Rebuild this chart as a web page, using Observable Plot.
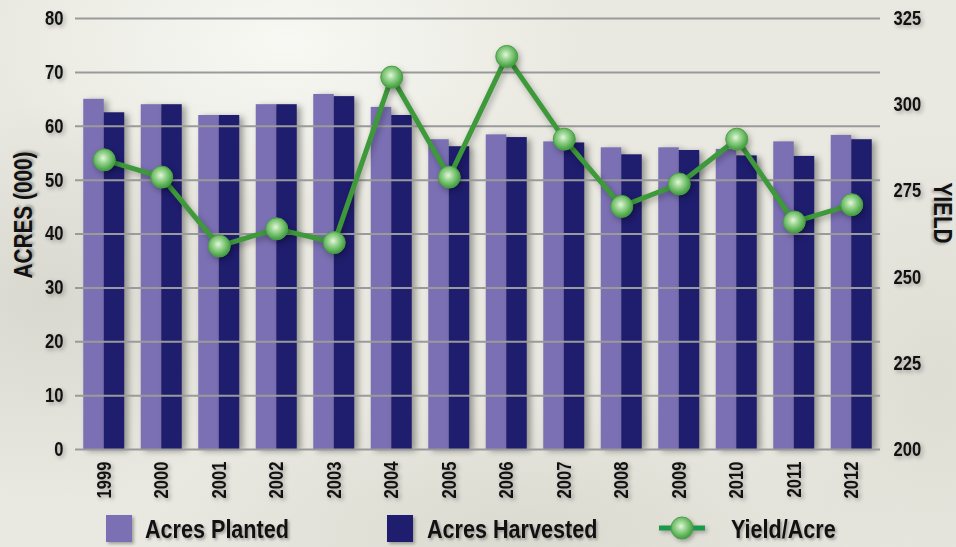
<!DOCTYPE html>
<html><head><meta charset="utf-8">
<script src="https://cdn.jsdelivr.net/npm/d3@7"></script>
<script src="https://cdn.jsdelivr.net/npm/@observablehq/plot@0.6"></script>
<style>
html,body{margin:0;padding:0;}
body{width:956px;height:547px;overflow:hidden;font-family:"Liberation Sans Narrow","Arial Narrow","Liberation Sans",Arial,sans-serif;font-weight:bold;color:#111;}
#wrap{position:relative;width:956px;height:547px;
 background:
  radial-gradient(ellipse 300px 160px at 30% 8%, rgba(250,250,246,.9), rgba(250,250,246,0)),
  radial-gradient(ellipse 260px 200px at 5% 55%, rgba(205,205,196,.6), rgba(205,205,196,0)),
  radial-gradient(ellipse 380px 160px at 55% 98%, rgba(208,208,198,.6), rgba(208,208,198,0)),
  radial-gradient(ellipse 200px 260px at 98% 70%, rgba(214,214,204,.6), rgba(214,214,204,0)),
  #e9e9e1;}
#wrap > svg, #wrap > figure{position:absolute;left:0;top:0;margin:0;}
svg g[aria-label="bar"]{filter:drop-shadow(4px 2px 3px rgba(0,0,0,.35));}
svg g[aria-label="y-axis tick label"], svg g[aria-label="x-axis tick label"]{filter:drop-shadow(2px 2px 2px rgba(0,0,0,.3));}
svg g[aria-label="line"], svg g[aria-label="dot"]{filter:drop-shadow(2px 3px 3px rgba(0,0,0,.3));}
.title{position:absolute;font-size:25px;white-space:nowrap;text-shadow:2px 2px 3px rgba(0,0,0,.3);line-height:1;}
.leg{position:absolute;font-size:26px;white-space:nowrap;text-shadow:2px 2px 3px rgba(0,0,0,.3);line-height:1;transform:scaleX(0.83);transform-origin:0 50%;}
.sw{position:absolute;width:26px;height:27px;box-shadow:2px 2px 3px rgba(0,0,0,.3);}
</style></head>
<body><div id="wrap"></div>
<script>
const years = ["1999","2000","2001","2002","2003","2004","2005","2006","2007","2008","2009","2010","2011","2012"];
const acresPlanted   = [65.0, 64.0, 62.0, 64.0, 65.9, 63.5, 57.5, 58.4, 57.1, 56.0, 56.0, 55.7, 57.1, 58.3];
const acresHarvested = [62.5, 64.0, 62.0, 64.0, 65.5, 62.0, 56.2, 57.9, 56.9, 54.7, 55.5, 54.5, 54.4, 57.5];
const yieldPerAcre   = [284, 279, 259, 264, 260, 308, 279, 314, 290, 270.5, 277, 290, 266, 271];
const acresTicks = [0, 10, 20, 30, 40, 50, 60, 70, 80];
const yieldTicks = [200, 225, 250, 275, 300, 325];
const seriesNames = ["Acres Planted", "Acres Harvested", "Yield/Acre"];

const colPlanted = "#7b70b4", colHarvested = "#1f1d6e", colLine = "#3d993a";

const rows = years.map((y, i) => ({year: y, planted: acresPlanted[i], harvested: acresHarvested[i], yld: yieldPerAcre[i]}));

const W = 956, H = 510;
const common = {
  width: W, height: H,
  marginTop: 18, marginBottom: 61, marginLeft: 75, marginRight: 76,
  style: {background: "transparent", fontFamily: '"Liberation Sans Narrow","Arial Narrow","Liberation Sans",Arial,sans-serif', fontWeight: "bold", color: "#111", overflow: "visible"},
  x: {type: "band", domain: years, paddingInner: 0.287, paddingOuter: 0.1435, round: false, axis: null}
};
const half = 805 / (14) * (1 - 0.287) / 2;

const p1 = Plot.plot({
  ...common,
  y: {domain: [0, 80], axis: null},
  marks: [
    Plot.barY(rows, {x: "year", y: "planted", fill: colPlanted, insetRight: half}),
    Plot.barY(rows, {x: "year", y: "harvested", fill: colHarvested, insetLeft: half}),
    Plot.ruleY(acresTicks, {stroke: "#9a9a9a", strokeWidth: 2}),
    Plot.axisY({ticks: acresTicks, tickSize: 0, tickPadding: 12, fontSize: 20, label: null, fill: "#111"}),
    Plot.axisX({tickRotate: -90, tickSize: 0, tickPadding: 12, fontSize: 21, label: null, fill: "#111"})
  ]
});

const p2 = Plot.plot({
  ...common,
  y: {domain: [200, 325], axis: null},
  marks: [
    Plot.axisY({anchor: "right", ticks: yieldTicks, tickSize: 0, tickPadding: 13, fontSize: 20, label: null, fill: "#111"}),
    Plot.line(rows, {x: "year", y: "yld", stroke: colLine, strokeWidth: 5}),
    Plot.dot(rows, {x: "year", y: "yld", r: 11, fill: "url(#gball)", stroke: "#4a9e46", strokeWidth: 1})
  ]
});

const wrap = document.getElementById("wrap");
wrap.appendChild(p1);
wrap.appendChild(p2);

const defs = `<defs><radialGradient id="gball" cx="45%" cy="42%" r="60%">
<stop offset="0%" stop-color="#e4f6dc"/><stop offset="35%" stop-color="#9ed795"/>
<stop offset="80%" stop-color="#55ac50"/><stop offset="100%" stop-color="#3e9a3c"/></radialGradient></defs>`;
const svg2 = p2.tagName.toLowerCase() === "svg" ? p2 : p2.querySelector("svg");
svg2.insertAdjacentHTML("afterbegin", defs);

// condense tick label glyphs (narrow bold look)
for (const t of wrap.querySelectorAll('g[aria-label$="tick label"] text')) {
  const L = t.getComputedTextLength();
  const k = t.closest('g[aria-label="x-axis tick label"]') ? 0.79 : 0.83;
  t.setAttribute("textLength", (L * k).toFixed(1));
  t.setAttribute("lengthAdjust", "spacingAndGlyphs");
}

function add(cls, text, css) {
  const d = document.createElement("div");
  d.className = cls; d.textContent = text;
  Object.assign(d.style, css);
  wrap.appendChild(d);
  return d;
}
// axis titles
add("title", "ACRES (000)", {left: "23px", top: "215px", transform: "translate(-50%,-50%) rotate(-90deg) scaleX(0.83)"});
add("title", "YIELD", {left: "942px", top: "213px", transform: "translate(-50%,-50%) rotate(90deg) scaleX(0.83)"});

// legend
const s1 = document.createElement("div"); s1.className = "sw"; Object.assign(s1.style, {left: "106px", top: "515px", background: colPlanted}); wrap.appendChild(s1);
add("leg", seriesNames[0], {left: "145px", top: "516px"});
const s2 = document.createElement("div"); s2.className = "sw"; Object.assign(s2.style, {left: "387px", top: "515px", background: colHarvested}); wrap.appendChild(s2);
add("leg", seriesNames[1], {left: "427px", top: "516px"});
wrap.insertAdjacentHTML("beforeend", `<svg width="60" height="30" style="position:absolute;left:652px;top:513px;overflow:visible;filter:drop-shadow(2px 2px 2px rgba(0,0,0,.3))">
<defs><radialGradient id="gball2" cx="45%" cy="42%" r="60%">
<stop offset="0%" stop-color="#e4f6dc"/><stop offset="35%" stop-color="#9ed795"/>
<stop offset="80%" stop-color="#55ac50"/><stop offset="100%" stop-color="#3e9a3c"/></radialGradient></defs>
<line x1="7" x2="53" y1="15" y2="15" stroke="#1a9a48" stroke-width="5"/>
<circle cx="30" cy="15" r="11" fill="url(#gball2)" stroke="#4a9e46"/></svg>`);
add("leg", seriesNames[2], {left: "731px", top: "516px"});
</script>
</body></html>
